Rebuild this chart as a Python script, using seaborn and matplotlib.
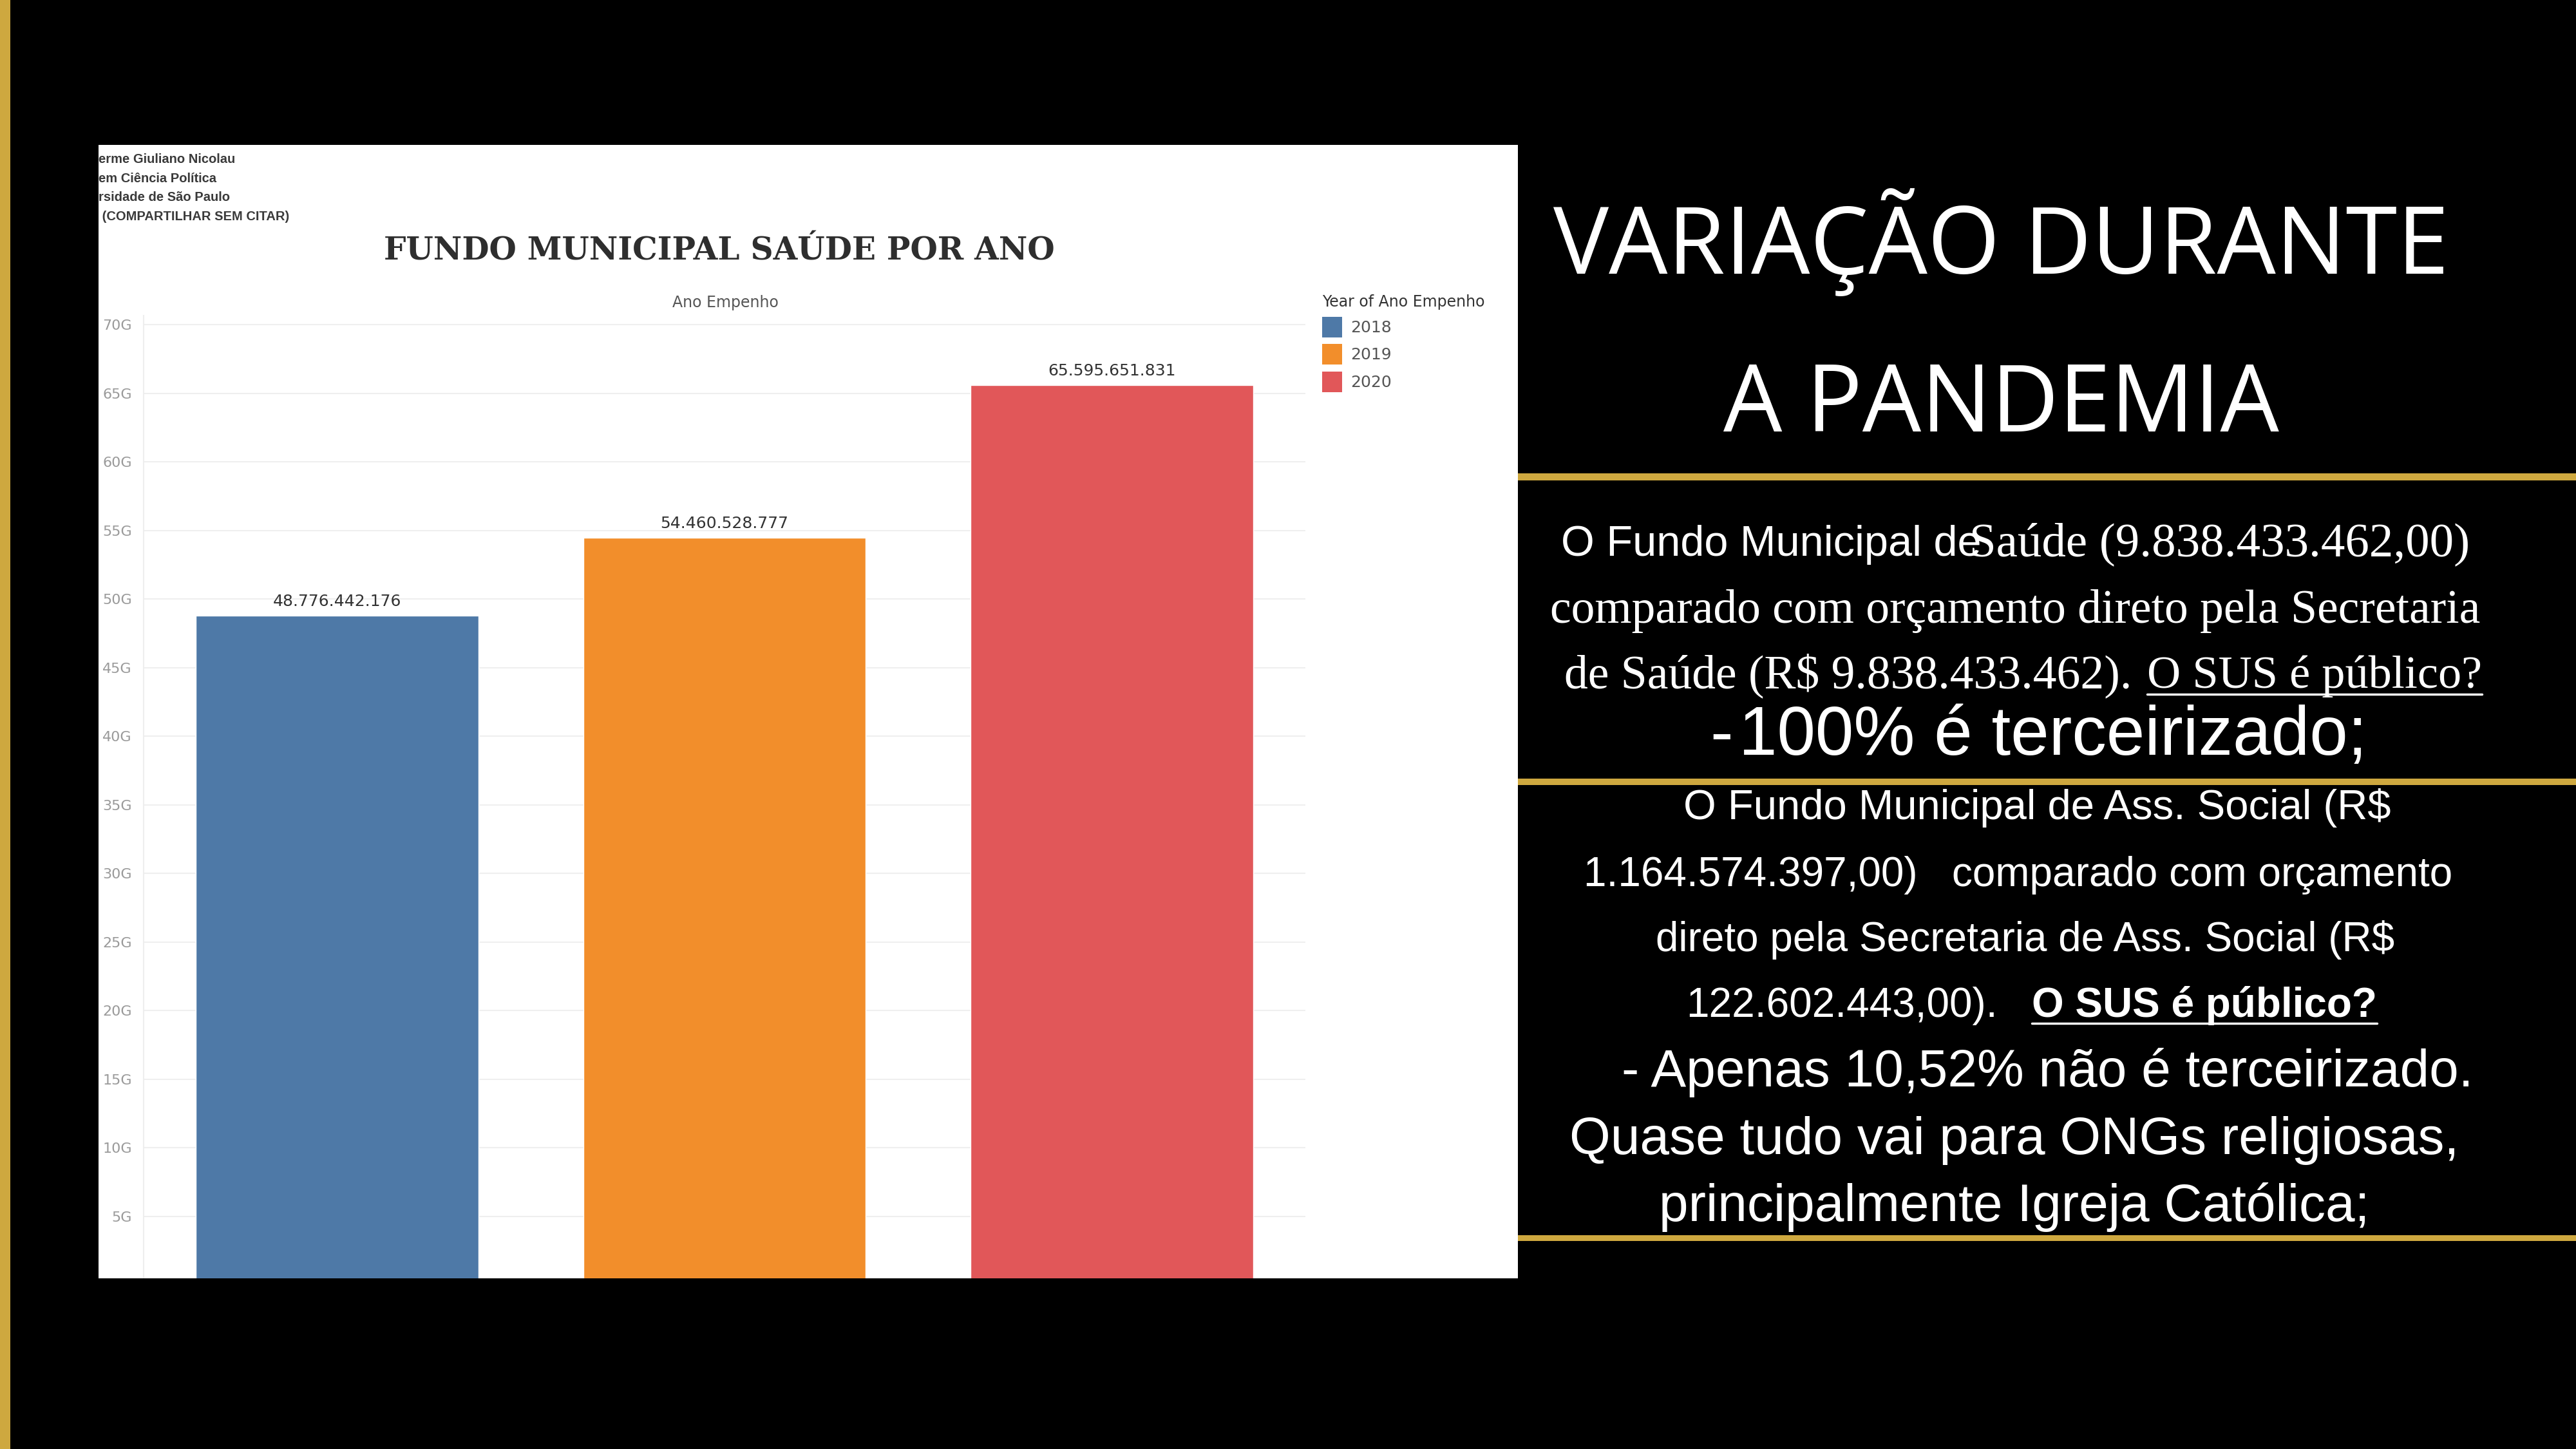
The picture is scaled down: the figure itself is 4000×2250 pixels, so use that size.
import matplotlib
matplotlib.use("Agg")
import matplotlib.pyplot as plt
import matplotlib.patches as mpatches
from matplotlib.lines import Line2D
from matplotlib.ticker import FuncFormatter, MultipleLocator
import seaborn as sns
import pandas as pd

# --- dados do gráfico ---
anos = ["2018", "2019", "2020"]
valores = [48776442176, 54460528777, 65595651831]
cores = ["#4E79A7", "#F28E2B", "#E15759"]
rotulos = [f"{v:,}".replace(",", ".") for v in valores]

autor = ["erme Giuliano Nicolau", "em Ciência Política", "rsidade de São Paulo", " (COMPARTILHAR SEM CITAR)"]

OURO = "#CEA83F"
W, H = 4000, 2250


def fx(x):
    return x / W


def fy(y):
    return 1 - y / H


sns.set_style("white")
plt.rcParams["font.family"] = ["DejaVu Sans"]

fig = plt.figure(figsize=(40, 22.5), dpi=100, facecolor="black")

# painel branco do print do Tableau
fig.add_artist(mpatches.Rectangle((fx(153), fy(1985)), fx(2357) - fx(153), fy(225) - fy(1985),
                                  transform=fig.transFigure, facecolor="white", edgecolor="none", zorder=-5))

ax = fig.add_axes([fx(223), fy(1995), fx(2027) - fx(223), fy(490) - fy(1995)])
ax.set_facecolor("white")

df = pd.DataFrame({"ano": anos, "valor": valores})
sns.barplot(data=df, x="ano", y="valor", hue="ano", palette=cores, width=0.73,
            saturation=1, legend=False, ax=ax)

ax.set_xlim(-0.5, 2.5)
ax.set_ylim(0, 70.66e9)
ax.yaxis.set_major_locator(MultipleLocator(5e9))
ax.yaxis.set_major_formatter(FuncFormatter(lambda v, p: f"{v / 1e9:.0f}G"))
ax.grid(axis="y", color="#efefef", lw=1.5)
ax.set_axisbelow(True)
ax.set_xticks([])
ax.set_xlabel("")
ax.set_ylabel("")
for s in ["top", "right", "bottom"]:
    ax.spines[s].set_visible(False)
ax.spines["left"].set_color("#eeeeee")
ax.spines["left"].set_linewidth(1.5)
ax.tick_params(axis="y", length=8, width=1.5, color="#efefef", labelsize=16,
               labelcolor="#9a9a9a", pad=5)

for cont, lab in zip(ax.containers, rotulos):
    ax.bar_label(cont, labels=[lab], padding=7, fontsize=18, color="#333333")

# legenda
handles = [mpatches.Patch(facecolor=c, edgecolor="none") for c in cores]
leg = fig.legend(handles, anos, title="Year of Ano Empenho", loc="upper left",
                 bbox_to_anchor=(fx(2053), fy(457)), frameon=False, fontsize=18,
                 title_fontsize=17, handlelength=1.25, handleheight=1.6, handletextpad=0.5,
                 labelspacing=0.42, borderpad=0, borderaxespad=0, alignment="left")
for t in leg.get_texts():
    t.set_color("#555555")
leg.get_title().set_color("#333333")

# títulos do gráfico
fig.text(fx(1117), fy(404), "FUNDO MUNICIPAL SAÚDE POR ANO", ha="center", va="baseline",
         fontsize=35, family="DejaVu Serif", weight="heavy", color="#2e2e2e")
fig.text(fx(1126), fy(477), "Ano Empenho", ha="center", va="baseline", fontsize=17, color="#555555")
for i, linha in enumerate(autor):
    fig.text(fx(153), fy(253 + i * 29.7), linha, ha="left", va="baseline", fontsize=14.5,
             weight="bold", family=["Liberation Sans", "DejaVu Sans"], color="#3a3a3a")

# lado direito
fig.add_artist(mpatches.Rectangle((0, 0), fx(16), 1, transform=fig.transFigure,
                                  facecolor=OURO, edgecolor="none", zorder=20))
fig.add_artist(mpatches.Rectangle((fx(16), 0), fx(2357) - fx(16), fy(1985), transform=fig.transFigure,
                                  facecolor="black", edgecolor="none", zorder=10))
for y0, y1 in [(735, 746), (1209, 1219), (1918, 1927)]:
    fig.add_artist(mpatches.Rectangle((fx(2357), fy(y1)), 1 - fx(2357), fy(y0) - fy(y1),
                                      transform=fig.transFigure, facecolor=OURO,
                                      edgecolor="none", zorder=20))

branco = dict(color="white", va="baseline")
fig.text(fx(3107), fy(425), "VARIAÇÃO DURANTE", ha="center", fontsize=104, family="Open Sans", **branco)
fig.text(fx(3107), fy(670), "A PANDEMIA", ha="center", fontsize=104, family="Open Sans", **branco)

sans = "Liberation Sans"
serif = "Liberation Serif"
fig.text(fx(2424), fy(863), "O Fundo Municipal de", ha="left", fontsize=48, family=sans, **branco)
fig.text(fx(3058), fy(863), "Saúde (9.838.433.462,00)", ha="left", fontsize=54, family=serif, **branco)
fig.text(fx(3129), fy(967), "comparado com orçamento direto pela Secretaria", ha="center",
         fontsize=53, family=serif, **branco)
fig.text(fx(2429), fy(1068), "de Saúde (R$ 9.838.433.462).", ha="left", fontsize=53, family=serif, **branco)
sub1 = fig.text(fx(3334), fy(1068), "O SUS é público?", ha="left", fontsize=52, family=serif, **branco)
fig.text(fx(2655), fy(1172), "-", ha="left", fontsize=77, family=sans, **branco)
fig.text(fx(2700), fy(1172), "100% é terceirizado;", ha="left", fontsize=77, family=sans, **branco)

fig.text(fx(3163), fy(1272), "O Fundo Municipal de Ass. Social (R$", ha="center", fontsize=47, family=sans, **branco)
fig.text(fx(3134), fy(1376), "1.164.574.397,00)   comparado com orçamento", ha="center",
         fontsize=46, family=sans, **branco)
fig.text(fx(3145), fy(1477), "direto pela Secretaria de Ass. Social (R$", ha="center",
         fontsize=46, family=sans, **branco)
fig.text(fx(2618), fy(1579), "122.602.443,00).", ha="left", fontsize=46, family=sans, **branco)
sub2 = fig.text(fx(3155), fy(1579), "O SUS é público?", ha="left", fontsize=46, family=sans,
                weight="bold", **branco)
fig.text(fx(3179), fy(1687), "- Apenas 10,52% não é terceirizado.", ha="center", fontsize=59, family=sans, **branco)
fig.text(fx(3128), fy(1792), "Quase tudo vai para ONGs religiosas,", ha="center", fontsize=59, family=sans, **branco)
fig.text(fx(3128), fy(1896), "principalmente Igreja Católica;", ha="center", fontsize=59, family=sans, **branco)

# sublinhados
fig.canvas.draw()
r = fig.canvas.get_renderer()
for txt, yy in [(sub1, 1078), (sub2, 1589)]:
    bb = txt.get_window_extent(r)
    fig.add_artist(Line2D([bb.x0 / W, bb.x1 / W], [fy(yy), fy(yy)], transform=fig.transFigure,
                          color="white", lw=2.5))

fig.savefig("out.png", dpi=100, facecolor="black")
